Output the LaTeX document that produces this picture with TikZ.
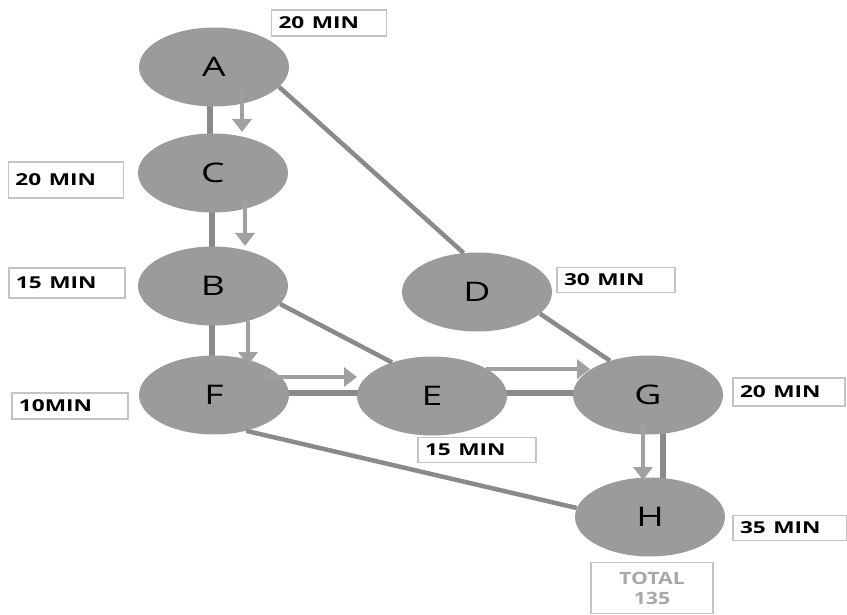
\documentclass[tikz,border=0pt]{standalone}
\usepackage{graphicx}
\usepackage{fontspec}
\setmainfont{Open Sans}
\usetikzlibrary{shapes.geometric,arrows.meta,calc,backgrounds}
\definecolor{nodegray}{HTML}{9B9B9B}
\definecolor{linegray}{HTML}{8A8A8A}
\definecolor{arrgray}{HTML}{A0A0A0}
\definecolor{boxgray}{HTML}{C4C4C4}
\definecolor{totgray}{HTML}{A8A8A8}
\newcommand\wtxt[1]{\scalebox{1.38}[1]{#1}}
\begin{document}
\begin{tikzpicture}[x=1pt,y=-1pt,
  task/.style={ellipse,fill=nodegray,draw=none,minimum width=150pt,minimum height=79pt,inner sep=0pt,font=\fontsize{27}{29}\selectfont},
  tlabel/.style={rectangle,draw=boxgray,line width=1.2pt,fill=white,inner xsep=7pt,inner ysep=0pt,align=left,font=\fontsize{16.4}{18}\selectfont\bfseries},
  link/.style={draw=linegray,line width=6pt},
  dlink/.style={draw=linegray,line width=4.5pt},
  flow/.style={draw=arrgray,line width=4.5pt,-{Triangle[width=19pt,length=13pt]}}]
\useasboundingbox (0,0) rectangle (847,615);
\node[task] (A) at (214,67) {\wtxt{A}};
\node[task] (C) at (213,173) {\wtxt{C}};
\node[task] (B) at (213,286) {\wtxt{B}};
\node[task] (D) at (477,292) {\wtxt{D}};
\node[task] (F) at (214,395) {\wtxt{F}};
\node[task] (E) at (432,396) {\wtxt{E}};
\node[task] (G) at (648,395) {\wtxt{G}};
\node[task] (H) at (650,517) {\wtxt{H}};
\node[tlabel,text width=101pt,minimum height=26pt] (lA) at (329,23) {\wtxt{20 MIN}};
\node[tlabel,text width=101pt,minimum height=36pt] (lC) at (66,180) {\wtxt{20 MIN}};
\node[tlabel,text width=102pt,minimum height=30pt] (lB) at (67,283) {\wtxt{15 MIN}};
\node[tlabel,text width=102pt,minimum height=26pt] (lF) at (70,406) {\wtxt{10MIN}};
\node[tlabel,text width=104pt,minimum height=25pt] (lD) at (616,280) {\wtxt{30 MIN}};
\node[tlabel,text width=104pt,minimum height=25pt] (lE) at (477,450) {\wtxt{15 MIN}};
\node[tlabel,text width=98pt,minimum height=28pt] (lG) at (789,392) {\wtxt{20 MIN}};
\node[tlabel,text width=100pt,minimum height=25pt] (lH) at (790,528) {\wtxt{35 MIN}};
\node[tlabel,text width=108pt,minimum height=51pt,align=center,text=totgray,font=\fontsize{17}{20}\selectfont\bfseries] (tot) at (652,588) {\scalebox{1.25}[1]{TOTAL}\\\scalebox{1.25}[1]{135}};
\begin{scope}[on background layer]
\draw[link] ($(A)+(-4,0)$) -- ($(C)+(-3,0)$);
\draw[link] ($(C)+(-1,0)$) -- ($(B)+(-1,0)$);
\draw[link] ($(B)+(-1,0)$) -- ($(F)+(-2,0)$);
\draw[link] ($(F)+(0,-2)$) -- ($(E)+(0,-3)$);
\draw[link] ($(E)+(0,-3)$) -- ($(G)+(0,-2)$);
\draw[link] ($(G)+(15,0)$) -- ($(H)+(13,0)$);
\end{scope}
\draw[dlink] (A.-17) -- (D.109);
\draw[dlink] (B.-15) -- (E.140);
\draw[dlink] (D.-19) -- (G.138);
\draw[dlink] (F.-48) -- (H.173);
\draw[flow] ($(A)+(28,21)$) -- ($(C)+(29,-41)$);
\draw[flow] ($(C)+(32,25)$) -- ($(B)+(32,-40)$);
\draw[flow] ($(B)+(35,35)$) -- ($(F)+(34,-30)$);
\draw[flow] ($(F)+(48,-18)$) -- ($(E)+(-75,-19)$);
\draw[flow] ($(E)+(54,-27)$) -- ($(G)+(-58,-26)$);
\draw[flow] ($(G)+(-5,29)$) -- ($(H)+(-7,-37)$);
\end{tikzpicture}
\end{document}
